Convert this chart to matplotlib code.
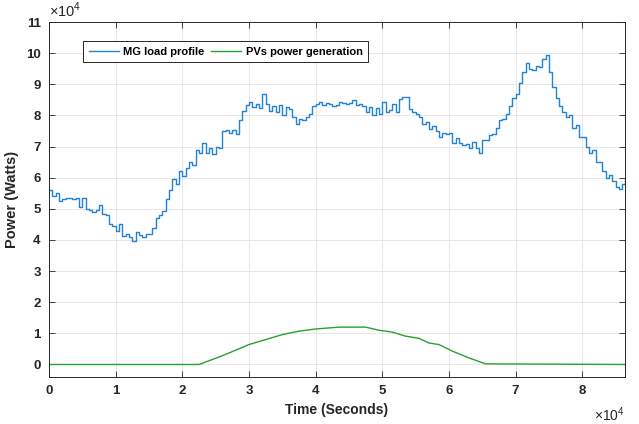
import numpy as np
import matplotlib.pyplot as plt

plt.rcParams['font.family'] = ['Liberation Sans', 'DejaVu Sans']
plt.rcParams['mathtext.fontset'] = 'custom'
plt.rcParams['mathtext.rm'] = 'Liberation Sans'

# MG load profile, sampled every 500 s (units of 1e4 W), last sample at 86400 s
load_t = np.append(np.arange(0, 86001, 500), 86400)
load_p = [5.6, 5.4, 5.5, 5.25, 5.3, 5.35, 5.35, 5.3, 5.35, 5.05,
          5.35, 5.0, 4.95, 4.9, 4.95, 5.13, 4.85, 4.8, 4.5, 4.45,
          4.3, 4.5, 4.12, 4.2, 4.1, 3.97, 4.25, 4.15, 4.08, 4.2,
          4.18, 4.4, 4.7, 4.8, 4.92, 5.3, 5.6, 5.95, 5.8, 6.2,
          6.04, 6.3, 6.5, 6.4, 6.88, 6.8, 7.1, 6.78, 6.94, 6.75,
          7.0, 6.95, 7.5, 7.53, 7.45, 7.53, 7.4, 7.85, 8.15, 8.35,
          8.44, 8.28, 8.38, 8.23, 8.7, 8.38, 8.15, 8.3, 8.12, 8.33,
          8.0, 8.28, 8.2, 7.96, 7.72, 7.9, 7.85, 7.96, 8.05, 8.3,
          8.38, 8.44, 8.33, 8.4, 8.38, 8.3, 8.33, 8.44, 8.4, 8.38,
          8.4, 8.49, 8.33, 8.38, 8.3, 8.12, 8.28, 8.0, 8.25, 8.05,
          8.44, 8.12, 8.17, 8.38, 8.12, 8.54, 8.6, 8.58, 8.2, 8.12,
          8.06, 7.95, 7.74, 7.8, 7.58, 7.65, 7.5, 7.32, 7.45, 7.4,
          7.45, 7.1, 7.26, 7.1, 7.05, 7.08, 6.94, 7.15, 6.95, 6.78,
          7.2, 7.22, 7.37, 7.4, 7.6, 7.85, 7.9, 8.05, 8.3, 8.55,
          8.7, 9.05, 9.4, 9.7, 9.5, 9.45, 9.6, 9.55, 9.8, 9.95,
          9.4, 8.9, 8.55, 8.3, 8.1, 7.95, 8.0, 7.6, 7.7, 7.3,
          7.3, 7.0, 6.8, 6.9, 6.5, 6.5, 6.2, 6.0, 6.1, 5.9,
          5.7, 5.65, 5.8, 6.0]

# PV power generation (units of 1e4 W)
pv_t = [0, 22500, 26000, 30000, 32500, 35000, 37500, 40000, 43500, 47500,
        49500, 51500, 53500, 55500, 57000, 58500, 60500, 63000, 65500, 86400]
pv_p = [0, 0, 0.28, 0.64, 0.8, 0.96, 1.07, 1.14, 1.2, 1.2,
        1.1, 1.04, 0.91, 0.84, 0.69, 0.64, 0.43, 0.21, 0.02, 0]

x_ticks = [0, 1, 2, 3, 4, 5, 6, 7, 8]
y_ticks = [0, 1, 2, 3, 4, 5, 6, 7, 8, 9, 10, 11]

fig = plt.figure(figsize=(6.39, 4.24), dpi=100, facecolor='white')
ax = fig.add_axes([0.0767, 0.111, 0.9013, 0.837])

ax.plot(load_t, np.array(load_p) * 1e4, color='#2283d2', linewidth=1.0,
        drawstyle='steps-post', label='MG load profile')
ax.plot(pv_t, np.array(pv_p) * 1e4, color='#27a033', linewidth=1.0,
        label='PVs power generation')

ax.set_xlim(0, 86400)
ax.set_ylim(-0.4e4, 11e4)
ax.set_xticks([v * 1e4 for v in x_ticks])
ax.set_xticklabels([str(v) for v in x_ticks])
ax.set_yticks([v * 1e4 for v in y_ticks])
ax.set_yticklabels([str(v) for v in y_ticks])

ax.grid(True, color='#e3e3e3', linewidth=0.6)
ax.set_axisbelow(True)
ax.tick_params(direction='in', length=4, width=0.6, top=True, right=True,
               labelsize=9.5, colors='#262626', pad=6)
for lab in ax.get_xticklabels() + ax.get_yticklabels():
    lab.set_fontweight('bold')
for sp in ax.spines.values():
    sp.set_color('#262626')
    sp.set_linewidth(0.7)

ax.set_xlabel('Time (Seconds)', fontweight='bold', fontsize=10, color='#262626', labelpad=4)
ax.set_ylabel('Power (Watts)', fontweight='bold', fontsize=10.5, color='#262626', labelpad=5)

ax.text(0.0, 1.006, r'$\times10^{4}$', transform=ax.transAxes, fontsize=10.5,
        color='#262626', ha='left', va='bottom')
ax.text(1.0, -0.08, r'$\times10^{4}$', transform=ax.transAxes, fontsize=10,
        color='#262626', ha='right', va='top')

leg = ax.legend(loc='upper left', bbox_to_anchor=(0.05, 0.962), ncol=2,
                fancybox=False, framealpha=1, edgecolor='#262626',
                handlelength=2.7, handletextpad=0.4, columnspacing=0.6,
                borderpad=0.5, prop={'weight': 'bold', 'size': 8})
leg.get_frame().set_linewidth(0.7)

fig.savefig('out.png', dpi=100, facecolor='white')
